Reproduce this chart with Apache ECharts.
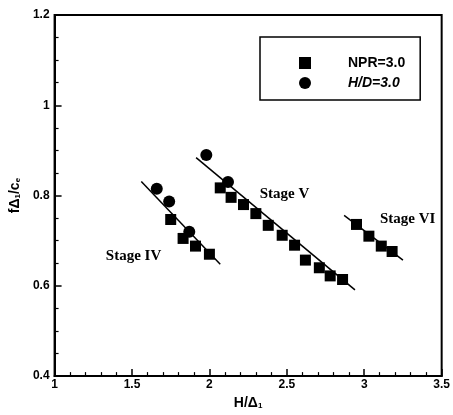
<!DOCTYPE html>
<html>
<head>
<meta charset="utf-8">
<script src="https://cdn.jsdelivr.net/npm/echarts@6/dist/echarts.min.js"></script>
<style>
  html, body { margin: 0; padding: 0; background: #fff; }
  #main { width: 453px; height: 415px; }
</style>
</head>
<body>
<div id="main"></div>
<script>
// NPR=3.0 (squares)
const npr = [
  [1.75, 0.747], [1.83, 0.705], [1.91, 0.688], [2.0, 0.67],
  [2.07, 0.817], [2.14, 0.796], [2.22, 0.78], [2.30, 0.76], [2.38, 0.734],
  [2.47, 0.712], [2.55, 0.69], [2.62, 0.657], [2.71, 0.64], [2.78, 0.622], [2.86, 0.614],
  [2.95, 0.736], [3.03, 0.71], [3.11, 0.688], [3.18, 0.676]
]
// H/D=3.0 (circles)
const hd = [
  [1.66, 0.815], [1.74, 0.787], [1.87, 0.72], [1.98, 0.89], [2.12, 0.83]
]
// fitted lines
const fitIV = [[1.56, 0.831], [2.07, 0.648]]
const fitV = [[1.914, 0.884], [2.94, 0.591]]
const fitVI = [[2.87, 0.756], [3.25, 0.657]]
// stage labels
const stageLabels = [
  {name: 'Stage IV', value: [1.51, 0.666]},
  {name: 'Stage V', value: [2.485, 0.804]},
  {name: 'Stage VI', value: [3.28, 0.747]}
]

const chart = echarts.init(document.getElementById('main'))

const axisFont = {
  fontFamily: 'Liberation Sans',
  fontWeight: 'bold',
  fontSize: 12,
  color: '#000'
}

const fitLine = (data) => ({
  type: 'line',
  data: data,
  symbol: 'none',
  silent: true,
  lineStyle: {color: '#000', width: 1.5},
  z: 1
})

chart.setOption({
  animation: false,
  grid: {
    left: 49, right: 10, top: 15, bottom: 36,
    show: true, borderColor: '#000', borderWidth: 2
  },
  legend: {
    orient: 'vertical',
    left: 260, top: 37,
    padding: [19, 15, 10, 39],
    borderColor: '#000',
    borderWidth: 1.5,
    itemWidth: 12, itemHeight: 12,
    itemGap: 6,
    data: [
      {name: 'NPR=3.0', textStyle: {fontStyle: 'normal'}},
      {name: 'H/D=3.0', textStyle: {fontStyle: 'italic'}}
    ],
    textStyle: {
      fontFamily: 'Liberation Sans', fontWeight: 'bold', fontSize: 14,
      color: '#000', padding: [0, 0, 0, 32]
    }
  },
  xAxis: {
    type: 'value',
    min: 1, max: 3.5, interval: 0.5,
    name: 'H/Δ{s|1}',
    nameLocation: 'middle',
    nameGap: 19,
    nameTextStyle: {
      ...axisFont, fontSize: 14,
      rich: {s: {...axisFont, fontSize: 8, verticalAlign: 'bottom', padding: [6, 0, 0, 0]}}
    },
    axisLine: {lineStyle: {color: '#000', width: 2}},
    axisTick: {inside: true, length: 7, lineStyle: {color: '#000', width: 1.5}},
    minorTick: {show: true, splitNumber: 5, length: 4, lineStyle: {color: '#000', width: 1.2}},
    splitLine: {show: false},
    axisLabel: {...axisFont, margin: 3}
  },
  yAxis: {
    type: 'value',
    min: 0.4, max: 1.2, interval: 0.2,
    name: 'fΔ{s|1}/c{s|e}',
    nameLocation: 'middle',
    nameRotate: 90,
    nameGap: 30,
    nameTextStyle: {
      ...axisFont, fontSize: 14,
      rich: {s: {...axisFont, fontSize: 8, verticalAlign: 'bottom', padding: [6, 0, 0, 0]}}
    },
    axisLine: {lineStyle: {color: '#000', width: 2}},
    axisTick: {inside: true, length: 7, lineStyle: {color: '#000', width: 1.5}},
    minorTick: {show: true, splitNumber: 4, length: 4, lineStyle: {color: '#000', width: 1.2}},
    splitLine: {show: false},
    axisLabel: {...axisFont, margin: 5}
  },
  series: [
    {
      name: 'NPR=3.0',
      type: 'scatter',
      symbol: 'rect',
      symbolSize: 11,
      itemStyle: {color: '#000', opacity: 1},
      data: npr,
      z: 3
    },
    {
      name: 'H/D=3.0',
      type: 'scatter',
      symbol: 'circle',
      symbolSize: 12,
      itemStyle: {color: '#000', opacity: 1},
      data: hd,
      z: 3
    },
    fitLine(fitIV),
    fitLine(fitV),
    fitLine(fitVI),
    {
      type: 'scatter',
      symbolSize: 0,
      silent: true,
      itemStyle: {opacity: 1},
      data: stageLabels,
      label: {
        show: true,
        position: 'inside',
        formatter: '{b}',
        fontFamily: 'Liberation Serif',
        fontWeight: 'bold',
        fontSize: 15,
        color: '#000',
        opacity: 1
      }
    }
  ]
})
</script>
</body>
</html>
